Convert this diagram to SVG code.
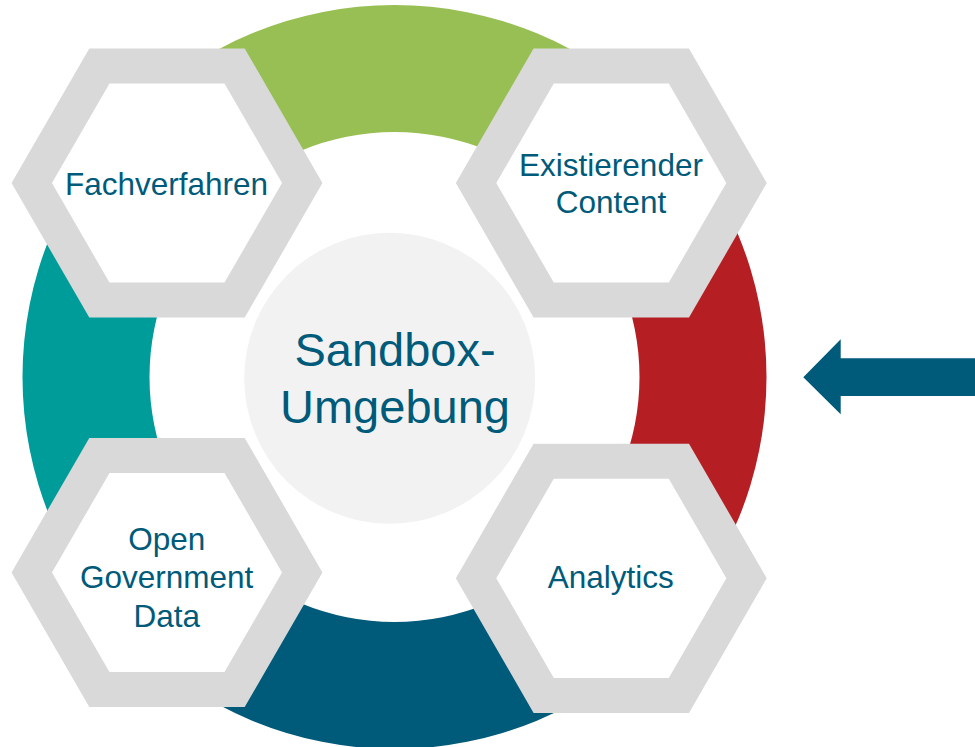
<svg xmlns="http://www.w3.org/2000/svg" width="975" height="747" viewBox="0 0 975 747">
<defs>
<style>
.hex{fill:#ffffff;stroke:#d9d9d9;stroke-width:35;stroke-linejoin:miter}
.lbl{font-family:"Liberation Sans",Arial,sans-serif;font-size:31.5px;fill:#005a7a;text-anchor:middle}
.big{font-family:"Liberation Sans",Arial,sans-serif;font-size:47px;fill:#005a7a;text-anchor:middle}
</style>
</defs>
<rect width="975" height="747" fill="#ffffff"/>
<g id="ring">
<!-- center (394.5,377), R=372, r=245; boundaries at 45 deg diagonals -->
<path d="M131.45,113.96 A372,372 0 0 1 657.55,113.96 L567.74,203.76 A245,245 0 0 0 221.26,203.76 Z" fill="#97bf53"/>
<path d="M657.55,113.96 A372,372 0 0 1 657.55,640.04 L567.74,550.24 A245,245 0 0 0 567.74,203.76 Z" fill="#b51f24"/>
<path d="M657.55,640.04 A372,372 0 0 1 131.45,640.04 L221.26,550.24 A245,245 0 0 0 567.74,550.24 Z" fill="#005a7a"/>
<path d="M131.45,640.04 A372,372 0 0 1 131.45,113.96 L221.26,203.76 A245,245 0 0 0 221.26,550.24 Z" fill="#009c9a"/>
</g>
<g id="center">
<circle cx="389.7" cy="378.3" r="145.5" fill="#f2f2f2"/>
<text class="big" x="395" y="366">Sandbox-</text>
<text class="big" x="395" y="422.7">Umgebung</text>
</g>
<g id="connectors">
<polygon points="803.3,377.3 840.7,339.3 840.7,358.3 975,358.3 975,396 840.7,396 840.7,414.3" fill="#005a7a"/>
</g>
<g id="fachverfahren">
<polygon class="hex" points="31.75,183 99.4,65.9 234.6,65.9 302.25,183 234.6,300.1 99.4,300.1"/>
<text class="lbl" x="166.5" y="195">Fachverfahren</text>
</g>
<g id="existierender-content">
<polygon class="hex" points="476.05,183 543.7,65.9 678.9,65.9 746.55,183 678.9,300.1 543.7,300.1"/>
<text class="lbl" x="611" y="175.7">Existierender</text>
<text class="lbl" x="611" y="213.3">Content</text>
</g>
<g id="open-government-data">
<polygon class="hex" points="31.75,572.5 99.4,455.4 234.6,455.4 302.25,572.5 234.6,689.6 99.4,689.6"/>
<text class="lbl" x="166.7" y="550">Open</text>
<text class="lbl" x="166.7" y="588.3">Government</text>
<text class="lbl" x="166.7" y="627.3">Data</text>
</g>
<g id="analytics">
<polygon class="hex" points="476.05,578.3 543.7,461.2 678.9,461.2 746.55,578.3 678.9,695.4 543.7,695.4"/>
<text class="lbl" x="610.8" y="588.3">Analytics</text>
</g>
</svg>
